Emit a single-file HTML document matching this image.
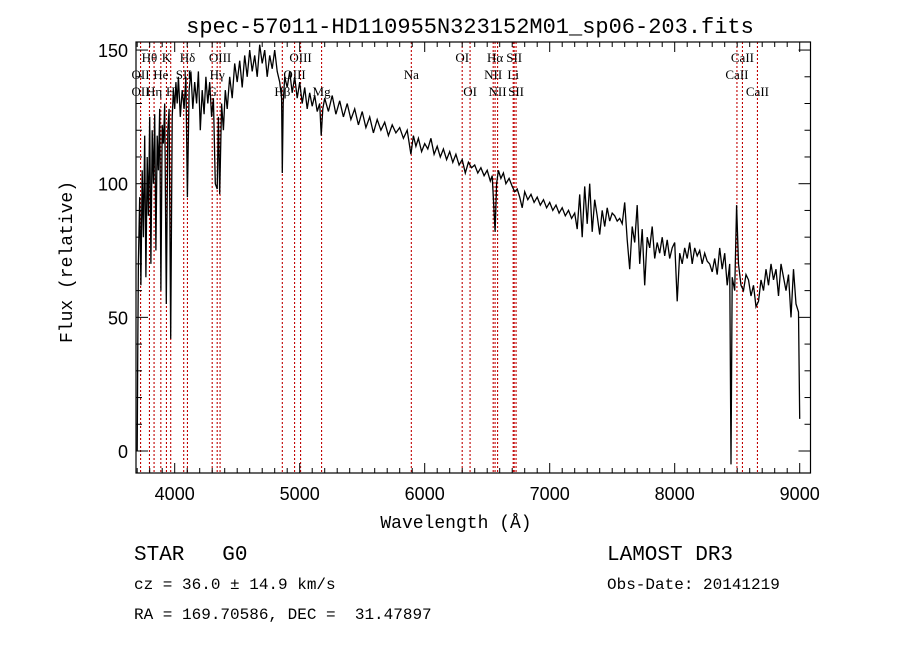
<!DOCTYPE html>
<html><head><meta charset="utf-8">
<style>
body{margin:0;background:#fff;}
svg{display:block;}
.t{font-family:"Liberation Serif",serif;font-size:13px;fill:#000;}
.tk{font-family:"Liberation Sans",sans-serif;font-size:18px;fill:#000;}
.mono{font-family:"Liberation Mono",monospace;fill:#000;white-space:pre;}
</style></head>
<body>
<svg id="chart" width="900" height="649" viewBox="0 0 900 649">
<text x="470" y="33" text-anchor="middle" class="mono" font-size="22">spec-57011-HD110955N323152M01_sp06-203.fits</text>
<g id="lines"></g>
<g id="labels"></g>
<path id="spec" fill="none" stroke="#000" stroke-width="1.3"/>
<rect x="136" y="42" width="674.5" height="431" fill="none" stroke="#000" stroke-width="1.2"/>
<g id="ticks"></g>
<text x="456" y="528" text-anchor="middle" class="mono" font-size="18">Wavelength (Å)</text>
<text transform="translate(72,262) rotate(-90)" text-anchor="middle" class="mono" font-size="18">Flux (relative)</text>
<text x="134" y="560" class="mono" font-size="21" xml:space="preserve">STAR   G0</text>
<text x="134" y="589" class="mono" font-size="16">cz = 36.0 ± 14.9 km/s</text>
<text x="134" y="619" class="mono" font-size="16" xml:space="preserve">RA = 169.70586, DEC =  31.47897</text>
<text x="607" y="560" class="mono" font-size="21">LAMOST DR3</text>
<text x="607" y="589" class="mono" font-size="16">Obs-Date: 20141219</text>
</svg>
<script>
const wave=[3700,3705,3710,3720,3730,3740,3750,3760,3770,3780,3790,3800,3810,3820,3830,3840,3850,3860,3870,3880,3890,3900,3910,3920,3933,3945,3955,3968,3980,3990,4000,4010,4020,4030,4045,4060,4075,4090,4102,4115,4130,4145,4160,4175,4190,4205,4220,4235,4250,4265,4280,4295,4310,4325,4340,4350,4360,4375,4390,4405,4420,4440,4460,4480,4500,4520,4540,4560,4580,4600,4620,4640,4660,4680,4700,4720,4740,4760,4780,4800,4820,4840,4855,4861,4868,4880,4900,4920,4940,4960,4980,5000,5020,5040,5060,5080,5100,5120,5140,5160,5172,5185,5200,5230,5260,5290,5320,5350,5380,5410,5440,5470,5500,5530,5560,5590,5620,5650,5680,5710,5740,5770,5800,5830,5860,5890,5910,5930,5950,5975,6000,6025,6050,6075,6100,6125,6150,6175,6200,6225,6250,6275,6300,6325,6350,6375,6400,6425,6450,6475,6500,6525,6540,6563,6575,6590,6610,6630,6650,6675,6700,6720,6740,6760,6780,6800,6825,6850,6875,6900,6925,6950,6975,7000,7025,7050,7075,7100,7125,7150,7175,7200,7220,7240,7260,7280,7300,7320,7340,7360,7380,7400,7420,7440,7460,7480,7500,7520,7540,7560,7580,7600,7620,7640,7660,7680,7700,7720,7740,7760,7780,7800,7820,7840,7860,7880,7900,7920,7940,7960,7980,8000,8020,8040,8060,8080,8100,8120,8140,8160,8180,8200,8220,8240,8260,8280,8300,8320,8340,8360,8380,8400,8420,8440,8450,8460,8480,8495,8510,8530,8550,8570,8590,8610,8630,8650,8670,8690,8710,8730,8750,8770,8790,8810,8830,8850,8870,8890,8910,8930,8950,8970,8990,9000];
const flux=[0,40,71,95,62,105,80,118,65,110,88,125,70,120,100,126,75,118,105,128,60,122,115,130,55,120,128,42,125,135,128,138,130,140,125,135,128,140,95,135,142,128,138,130,142,120,135,126,140,130,138,125,132,100,98,125,96,130,120,135,128,140,132,145,138,146,136,148,140,150,142,148,140,152,145,150,140,148,143,150,142,138,132,104,130,140,136,142,134,140,132,138,130,136,128,134,129,133,127,130,118,128,132,127,133,126,131,125,130,124,128,122,127,121,125,119,124,120,123,118,122,119,121,117,120,111,118,114,117,112,115,113,117,111,114,110,113,109,112,108,111,107,109,104,108,106,107,104,106,103,105,101,103,82,100,105,102,104,100,102,99,97,98,95,91,97,94,96,93,95,92,94,91,93,90,92,89,91,88,90,87,89,83,96,80,99,85,100,82,94,88,81,90,84,91,86,89,88,86,87,85,93,79,68,84,78,92,70,83,62,80,76,84,72,78,74,80,73,79,72,76,78,56,74,70,76,72,78,70,76,73,75,70,74,71,70,67,72,66,76,68,74,62,70,-5,65,60,92,70,62,60,66,64,58,62,54,56,64,60,68,62,70,64,68,58,70,65,60,66,50,68,55,52,12];
const lineWaves=[3727,3798,3835,3889,3934,3968,4072,4102,4300,4340,4363,4861,4959,5007,5175,5893,6300,6363,6548,6563,6583,6708,6716,6731,8498,8542,8662];
const labelText=["Hθ","K","Hδ","OIII","OIII","OI","Hα","SII","CaII","OII","He","SII","Hγ","OIII","Na","NII","Li","CaII","OII","Hη","H","G","Hβ","Mg","OI","NII","SII","CaII"];
const labelWave=[3798,3934,4102,4363,5007,6300,6563,6716,8542,3727,3889,4072,4340,4959,5893,6548,6708,8498,3727,3835,3968,4300,4861,5175,6363,6583,6731,8662];
const labelRow=[0,0,0,0,0,0,0,0,0,1,1,1,1,1,1,1,1,1,2,2,2,2,2,2,2,2,2,2];
const yTicks=[0,50,100,150];
const xTicks=[4000,5000,6000,7000,8000,9000];
const X=w=>174.7+(w-4000)*0.125;
const Y=f=>451-f*2.673;
const NS='http://www.w3.org/2000/svg';
const mk=(t,p,a)=>{const e=document.createElementNS(NS,t);for(const k in a)e.setAttribute(k,a[k]);p.appendChild(e);return e;};
let d='';
wave.forEach((w,i)=>{d+=(i?'L':'M')+X(w).toFixed(1)+' '+Math.min(473,Y(flux[i])).toFixed(1);});
document.getElementById('spec').setAttribute('d',d);
const lg=document.getElementById('lines');
lineWaves.forEach(w=>{
 const l=mk('line',lg,{x1:X(w),x2:X(w),y1:42,y2:473,stroke:'#c00000','stroke-width':1.1,'stroke-dasharray':'2,2'});
 
 
});
const lb=document.getElementById('labels');
labelText.forEach((s,i)=>{
 const t=mk('text',lb,{x:X(labelWave[i]),y:62+labelRow[i]*17,'text-anchor':'middle',class:'t'});
 t.textContent=s;
 
 
});
const tg=document.getElementById('ticks');
for(let w=3700;w<=9080;w+=100){
 const maj=w%1000===0, len=maj?10:5;
 mk('line',tg,{x1:X(w),x2:X(w),y1:473,y2:473-len,stroke:'#000'});
 mk('line',tg,{x1:X(w),x2:X(w),y1:42,y2:42+len,stroke:'#000'});
}
for(let f=0;f<=150;f+=10){
 const len=f%50===0?12:6;
 mk('line',tg,{x1:136,x2:136+len,y1:Y(f),y2:Y(f),stroke:'#000'});
 mk('line',tg,{x1:810.5,x2:810.5-len,y1:Y(f),y2:Y(f),stroke:'#000'});
}
xTicks.forEach(v=>{
 const t=mk('text',tg,{x:X(v),y:500,'text-anchor':'middle',class:'tk'});
 t.textContent=v;
 
 
});
yTicks.forEach(v=>{
 const t=mk('text',tg,{x:128,y:Y(v)+7,'text-anchor':'end',class:'tk'});
 t.textContent=v;
 
 
});
</script>
</body></html>
